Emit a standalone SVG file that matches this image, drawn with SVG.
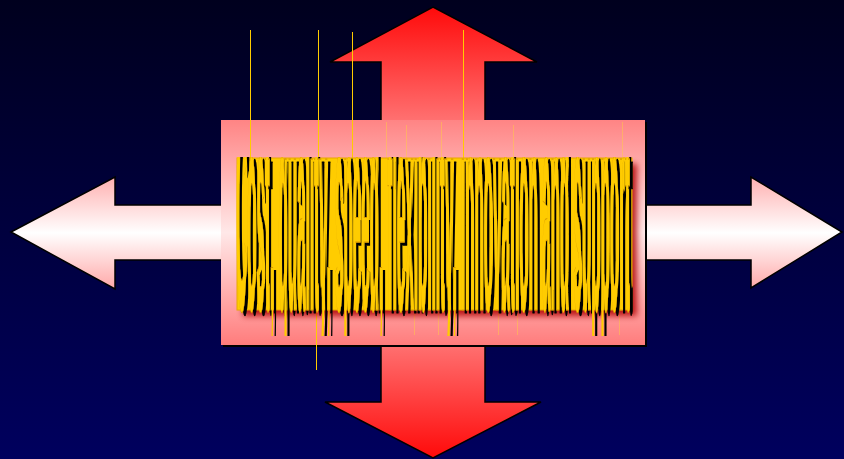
<svg xmlns="http://www.w3.org/2000/svg" width="844" height="459" viewBox="0 0 844 459">
  <defs>
    <linearGradient id="bg" x1="0" y1="0" x2="0" y2="1">
      <stop offset="0" stop-color="#00001e"/>
      <stop offset="1" stop-color="#00005e"/>
    </linearGradient>
    <linearGradient id="hgrad" gradientUnits="userSpaceOnUse" x1="0" y1="177" x2="0" y2="289">
      <stop offset="0" stop-color="#ffb0b0"/>
      <stop offset="0.5" stop-color="#ffffff"/>
      <stop offset="1" stop-color="#ffa8a8"/>
    </linearGradient>
    <linearGradient id="vgrad" gradientUnits="userSpaceOnUse" x1="0" y1="7" x2="0" y2="458">
      <stop offset="0" stop-color="#ff0a0a"/>
      <stop offset="0.25" stop-color="#ff7070"/>
      <stop offset="0.5" stop-color="#ffa0a0"/>
      <stop offset="0.75" stop-color="#ff7070"/>
      <stop offset="1" stop-color="#ff0a0a"/>
    </linearGradient>
    <linearGradient id="rgrad" gradientUnits="userSpaceOnUse" x1="0" y1="120" x2="0" y2="345">
      <stop offset="0" stop-color="#ff8484"/>
      <stop offset="0.5" stop-color="#ffe8e8"/>
      <stop offset="1" stop-color="#ff7c7c"/>
    </linearGradient>
    <filter id="blur" x="-10%" y="-20%" width="120%" height="140%">
      <feGaussianBlur stdDeviation="3"/>
    </filter>
    <filter id="blackshadow" x="-5%" y="-50%" width="110%" height="200%">
      <feOffset in="SourceAlpha" dx="2.5" dy="0.15" result="off"/>
      <feFlood flood-color="#000000"/>
      <feComposite in2="off" operator="in" result="sh"/>
      <feMerge>
        <feMergeNode in="sh"/>
        <feMergeNode in="SourceGraphic"/>
      </feMerge>
    </filter>
    <clipPath id="txtclip">
      <rect x="225" y="157" width="420" height="179"/>
    </clipPath>
    <style>
      .arrow { stroke: #000000; stroke-width: 1.5; stroke-linejoin: miter; }
      .txt { font-family: "Liberation Sans", Arial, sans-serif; font-size: 14px; font-weight: bold; }
      .hair { stroke: #ffcc00; stroke-width: 1; }
      .faint { stroke: #ffd040; stroke-width: 1; opacity: 0.45; }
    </style>
  </defs>

  <rect x="0" y="0" width="844" height="459" fill="url(#bg)"/>

  <g id="connectors">
    <path id="arrow-horizontal" class="arrow" fill="url(#hgrad)"
          d="M11,232 L115,177 L115,205 L751,205 L751,177 L842,232 L751,288 L751,260 L115,260 L115,289 Z"/>
    <path id="arrow-vertical" class="arrow" fill="url(#vgrad)"
          d="M433,7 L537,62 L485,62 L485,402 L541,402 L433,458 L325,402 L381,402 L381,62 L330,62 Z"/>
  </g>

  <g id="center-box">
    <rect x="223" y="122" width="424" height="225" fill="#000000"/>
    <rect x="221" y="120" width="424" height="225" fill="url(#rgrad)"/>
  </g>

  <g id="artifacts">
    <line class="hair" x1="250.5" y1="30" x2="250.5" y2="160"/>
    <line class="hair" x1="318.5" y1="30" x2="318.5" y2="160"/>
    <line class="hair" x1="352.5" y1="32" x2="352.5" y2="160"/>
    <line class="hair" x1="463.5" y1="30" x2="463.5" y2="160"/>
    <line class="hair" x1="316.5" y1="308" x2="316.5" y2="370"/>
    <line class="faint" x1="386.5" y1="122" x2="386.5" y2="160"/>
    <line class="faint" x1="406.5" y1="125" x2="406.5" y2="160"/>
    <line class="faint" x1="441.5" y1="122" x2="441.5" y2="160"/>
    <line class="faint" x1="513.5" y1="125" x2="513.5" y2="160"/>
    <line class="faint" x1="622.5" y1="122" x2="622.5" y2="160"/>
    <line class="faint" x1="414.5" y1="308" x2="414.5" y2="335"/>
    <line class="faint" x1="438.5" y1="308" x2="438.5" y2="335"/>
    <line class="faint" x1="498.5" y1="308" x2="498.5" y2="335"/>
    <line class="faint" x1="517.5" y1="308" x2="517.5" y2="335"/>
    <line class="faint" x1="619.5" y1="308" x2="619.5" y2="335"/>
  </g>

  <g id="title">
    <rect x="243" y="164" width="394" height="152" fill="#b00000" filter="url(#blur)" opacity="0.85"/>
    <rect x="237" y="158" width="395" height="152" fill="#ffcc00" stroke="#e8a800" stroke-width="1"/>
    <g clip-path="url(#txtclip)">
      <g transform="translate(236,310) scale(1,20.4)">
        <text class="txt" x="0" y="0" textLength="394" lengthAdjust="spacingAndGlyphs" filter="url(#blackshadow)"
              fill="#ffcc00" stroke="#d89a00" stroke-width="0.8" vector-effect="non-scaling-stroke">Cost, quality, speed, flexibility, innovation and support</text>
      </g>
    </g>
  </g>
</svg>
